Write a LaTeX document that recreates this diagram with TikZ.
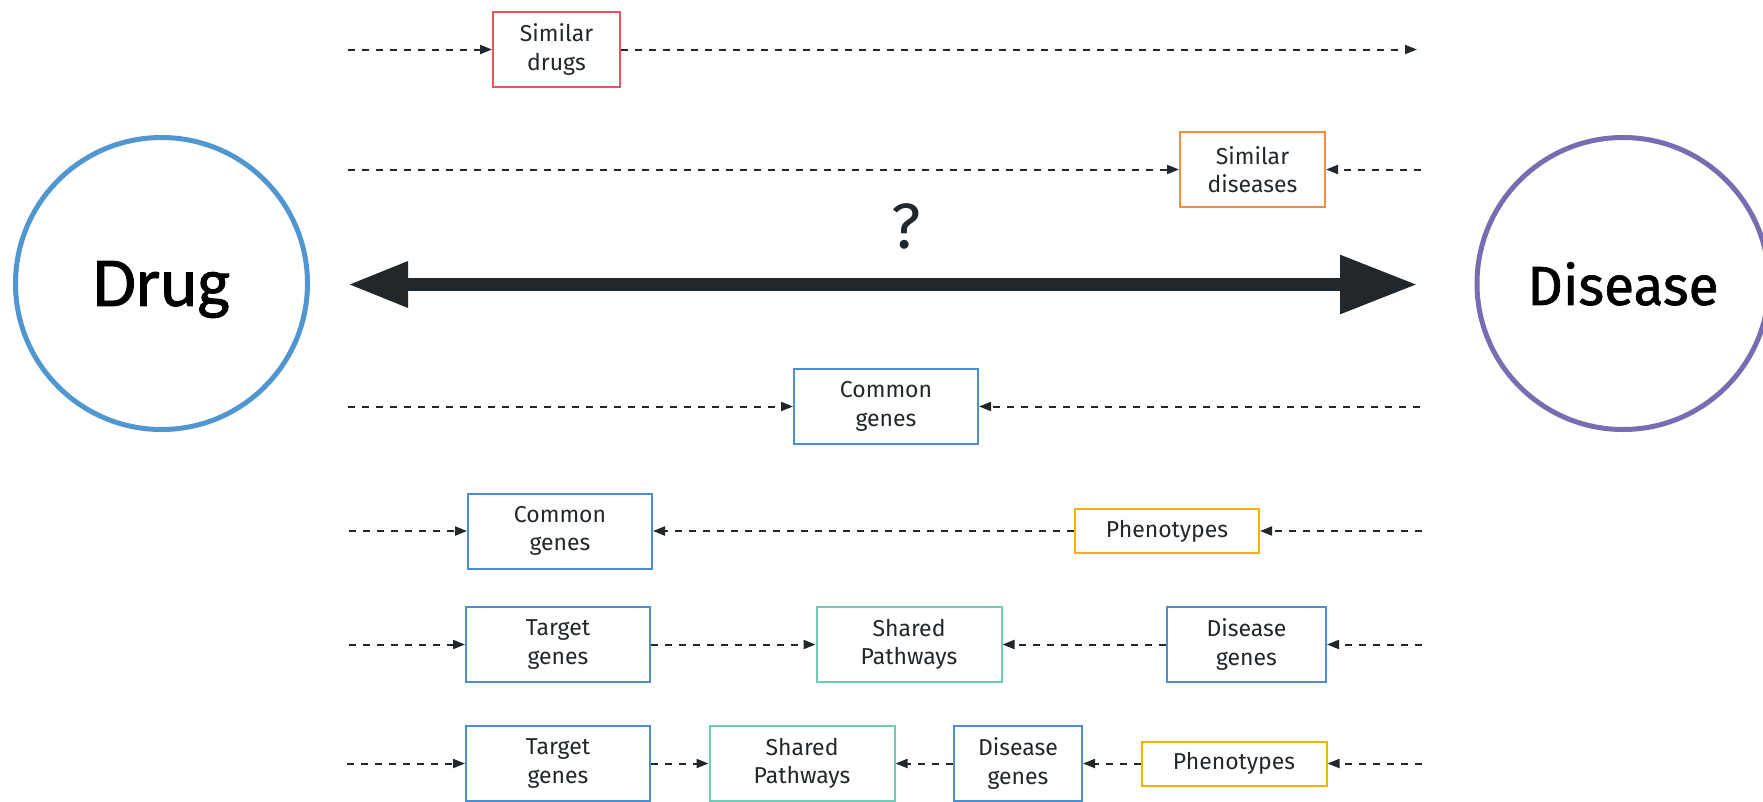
\documentclass[tikz,border=0pt]{standalone}
\usepackage{fontspec}
\setmainfont{Fira Sans}
\newfontfamily\drugfont[FakeBold=1.2]{Carlito}
\newfontfamily\disfont[FakeBold=1.2]{Fira Sans}
\usepackage{tikz}
\usetikzlibrary{arrows.meta}
\definecolor{ink}{HTML}{21272A}
\definecolor{drugblue}{HTML}{5097D1}
\definecolor{genblue}{HTML}{4A8FD3}
\definecolor{dispurple}{HTML}{7A6CB0}
\definecolor{simred}{HTML}{EC545C}
\definecolor{simorange}{HTML}{F68B3D}
\definecolor{pathteal}{HTML}{6FCDB6}
\definecolor{phenoyellow}{HTML}{F0B400}

\begin{document}
\begin{tikzpicture}[x=1pt, y=1pt,
		box/.style={draw, line width=2pt, align=center, minimum height=75pt, inner sep=0pt, text=ink, font=\fontsize{23}{28.5}\selectfont},
		flow/.style={draw=ink, line width=2pt, dash pattern=on 7pt off 7pt, -{Triangle[length=12pt,width=9pt]}},
		hub/.style={circle, draw, line width=5pt, minimum size=292pt, inner sep=0pt, text depth=0pt}]
	\useasboundingbox (0,0) rectangle (1763,-801);

	% the two ends
	\node[hub, draw=drugblue, font=\drugfont\fontsize{70}{80}\selectfont] (drug) at (161.5,-283.5) {Drug};
	\node[hub, draw=dispurple, font=\disfont\fontsize{55}{66}\selectfont] (disease) at (1623,-283.5) {Disease};

	\coordinate (qL) at (348,-284.5);
	\coordinate (qR) at (1417,-284.5);
	\draw[ink, line width=12.4pt, {Triangle[length=60pt,width=43pt]}-{Triangle[length=77pt,width=56pt]}] (qL) -- (qR);
	\node[text=ink, font=\fontsize{64}{70}\selectfont] (q) at (906.5,-226) {?};

	% similar drugs
	\node[box, draw=simred, minimum width=127pt] (drugsim) at (556.5,-49.5) {Similar\\drugs};
	\coordinate (a1) at (348,-49.5);
	\coordinate (b1) at (1417,-49.5);
	\draw[flow] (a1) -- (drugsim.west);
	\draw[flow] (drugsim.east) -- (b1);

	% similar diseases
	\node[box, draw=simorange, minimum width=145pt] (dissim) at (1252.5,-169.5) {Similar\\diseases};
	\coordinate (a2) at (348,-169.5);
	\coordinate (b2) at (1421,-169.5);
	\draw[flow] (a2) -- (dissim.west);
	\draw[flow] (b2) -- (dissim.east);

	% common genes
	\node[box, draw=genblue, minimum width=184pt] (cg1) at (886,-406.5) {Common\\genes};
	\coordinate (a3) at (348,-406.5);
	\coordinate (b3) at (1420,-406.5);
	\draw[flow] (a3) -- (cg1.west);
	\draw[flow] (b3) -- (cg1.east);

	% common genes via phenotypes
	\node[box, draw=genblue, minimum width=184pt] (cg2) at (560,-531) {Common\\genes};
	\node[box, draw=phenoyellow, minimum width=184pt, minimum height=44pt] (ph1) at (1167,-531) {Phenotypes};
	\coordinate (a4) at (349,-531);
	\coordinate (b4) at (1422,-531);
	\draw[flow] (a4) -- (cg2.west);
	\draw[flow] (ph1.west) -- (cg2.east);
	\draw[flow] (b4) -- (ph1.east);

	% shared pathways
	\node[box, draw=genblue, minimum width=184pt] (tg1) at (558,-644.5) {Target\\genes};
	\node[box, draw=pathteal, minimum width=185pt] (sp1) at (909,-644.5) {Shared\\Pathways};
	\node[box, draw=genblue, minimum width=159pt] (dg1) at (1246.5,-644.5) {Disease\\genes};
	\coordinate (a5) at (349,-644.5);
	\coordinate (b5) at (1422,-644.5);
	\draw[flow] (a5) -- (tg1.west);
	\draw[flow] (tg1.east) -- (sp1.west);
	\draw[flow] (dg1.west) -- (sp1.east);
	\draw[flow] (b5) -- (dg1.east);

	% shared pathways via phenotypes
	\node[box, draw=genblue, minimum width=184pt] (tg2) at (558,-763.5) {Target\\genes};
	\node[box, draw=pathteal, minimum width=185pt] (sp2) at (802,-763.5) {Shared\\Pathways};
	\node[box, draw=genblue, minimum width=128pt] (dg2) at (1018,-763.5) {Disease\\genes};
	\node[box, draw=phenoyellow, minimum width=185pt, minimum height=44pt] (ph2) at (1234,-763.5) {Phenotypes};
	\coordinate (a6) at (347,-763.5);
	\coordinate (b6) at (1422,-763.5);
	\draw[flow] (a6) -- (tg2.west);
	\draw[flow] (tg2.east) -- (sp2.west);
	\draw[flow] (dg2.west) -- (sp2.east);
	\draw[flow] (ph2.west) -- (dg2.east);
	\draw[flow] (b6) -- (ph2.east);
\end{tikzpicture}
\end{document}
